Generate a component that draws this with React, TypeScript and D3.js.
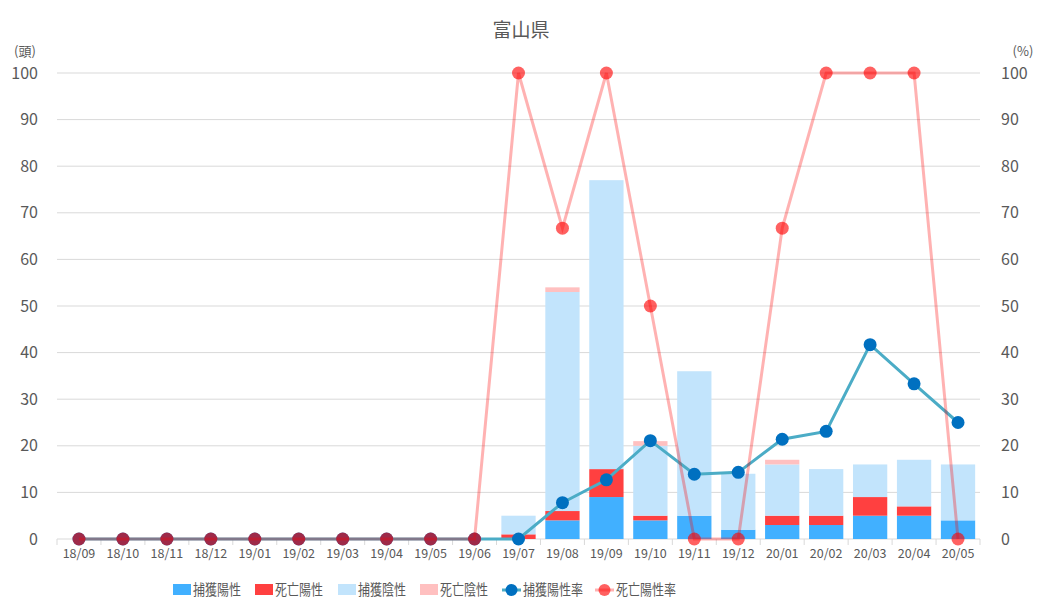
import React from "react";
import * as d3 from "d3";

const categories = ["18/09","18/10","18/11","18/12","19/01","19/02","19/03","19/04","19/05","19/06","19/07","19/08","19/09","19/10","19/11","19/12","20/01","20/02","20/03","20/04","20/05"];
const capturePositive = [0,0,0,0,0,0,0,0,0,0,0,4,9,4,5,2,3,3,5,5,4];
const deathPositive   = [0,0,0,0,0,0,0,0,0,0,1,2,6,1,0,0,2,2,4,2,0];
const captureNegative = [0,0,0,0,0,0,0,0,0,0,4,47,62,15,31,12,11,10,7,10,12];
const deathNegative   = [0,0,0,0,0,0,0,0,0,0,0,1,0,1,0,0,1,0,0,0,0];
const captureRate = [0,0,0,0,0,0,0,0,0,0,0,7.8,12.7,21.1,13.9,14.3,21.4,23.1,41.7,33.3,25];
const deathRate   = [0,0,0,0,0,0,0,0,0,0,100,66.7,100,50,0,0,66.7,100,100,100,0];
const yTicks = [0,10,20,30,40,50,60,70,80,90,100];

const seriesNames = ["捕獲陽性","死亡陽性","捕獲陰性","死亡陰性"];
const seriesColors = ["#41b0ff","#ff4040","#c2e4fc","#ffc0c0"];

const FONT = "'Noto Sans CJK JP', 'Noto Sans', sans-serif";
const TXT = "#595959";

export default function App() {
  const W = 1042, H = 615;
  const left = 57, right = 980, top = 73, bottom = 539;
  const x = d3.scaleBand<string>().domain(categories).range([left, right]).paddingInner(0.22).paddingOuter(0.11);
  const xc = (c: string) => (x(c) as number) + x.bandwidth() / 2;
  const y = d3.scaleLinear().domain([0, 100]).range([bottom, top]);
  const yR = d3.scaleLinear().domain([0, 100]).range([bottom, top]);
  const step = (right - left) / categories.length;

  const rows = categories.map((c, i) => ({
    cat: c,
    s0: capturePositive[i], s1: deathPositive[i], s2: captureNegative[i], s3: deathNegative[i],
  }));
  const stacked = d3.stack<any>().keys(["s0","s1","s2","s3"])(rows);

  const line = d3.line<number>().x((_, i) => xc(categories[i])).y(v => yR(v));

  const legend = [
    { type: "rect", color: seriesColors[0], label: seriesNames[0], x: 173 },
    { type: "rect", color: seriesColors[1], label: seriesNames[1], x: 255 },
    { type: "rect", color: seriesColors[2], label: seriesNames[2], x: 338 },
    { type: "rect", color: seriesColors[3], label: seriesNames[3], x: 420 },
    { type: "lineB", label: "捕獲陽性率", x: 502 },
    { type: "lineR", label: "死亡陽性率", x: 595 },
  ];

  return (
    <div style={{ position: "absolute", left: 0, top: 0 }}>
      <svg width={W} height={H} style={{ display: "block", background: "#fff" }} fontFamily={FONT}>
        <text x={521} y={37} textAnchor="middle" fontSize={19} fill={TXT}>富山県</text>
        <text x={25} y={56} textAnchor="middle" fontSize={13} fill={TXT}>(頭)</text>
        <text x={1023} y={56} textAnchor="middle" fontSize={13} fill={TXT}>(%)</text>
        {yTicks.map(t => (
          <g key={t}>
            <line x1={left} x2={right} y1={y(t)} y2={y(t)} stroke="#d9d9d9" strokeWidth={1} />
            <text x={38} y={y(t)} dy="0.35em" textAnchor="end" fontSize={16} fill={TXT}>{t}</text>
            <text x={1001} y={yR(t)} dy="0.35em" textAnchor="start" fontSize={16} fill={TXT}>{t}</text>
          </g>
        ))}
        {d3.range(categories.length + 1).map(i => (
          <line key={i} x1={left + i * step} x2={left + i * step} y1={bottom} y2={bottom + 6} stroke="#d9d9d9" />
        ))}
        {categories.map(c => (
          <text key={c} x={xc(c)} y={558} textAnchor="middle" fontSize={12.5} fill={TXT}>{c}</text>
        ))}
        {stacked.map((s, si) => (
          <g key={si} fill={seriesColors[si]}>
            {s.map((d: any, i: number) => (
              d[1] - d[0] > 0 ? (
                <rect key={i} x={x(categories[i])} width={x.bandwidth()} y={y(d[1])} height={y(d[0]) - y(d[1])} />
              ) : null
            ))}
          </g>
        ))}
        <path d={line(captureRate) || ""} fill="none" stroke="#4bacc6" strokeWidth={3} />
        {captureRate.map((v, i) => (
          <circle key={i} cx={xc(categories[i])} cy={yR(v)} r={6.5} fill="#0070c0" />
        ))}
        <path d={line(deathRate) || ""} fill="none" stroke="rgba(255,0,0,0.3)" strokeWidth={3} />
        {deathRate.map((v, i) => (
          <circle key={i} cx={xc(categories[i])} cy={yR(v)} r={6.5} fill="rgba(255,0,0,0.62)" />
        ))}
        {legend.map((l, i) => (
          <g key={i}>
            {l.type === "rect" && <rect x={l.x} y={584} width={18} height={11} fill={l.color} />}
            {l.type === "lineB" && (
              <g>
                <line x1={l.x} x2={l.x + 19} y1={590} y2={590} stroke="#4bacc6" strokeWidth={3} />
                <circle cx={l.x + 9.5} cy={590} r={6} fill="#0070c0" />
              </g>
            )}
            {l.type === "lineR" && (
              <g>
                <line x1={l.x} x2={l.x + 19} y1={590} y2={590} stroke="rgba(255,0,0,0.3)" strokeWidth={3} />
                <circle cx={l.x + 9.5} cy={590} r={6} fill="rgba(255,0,0,0.62)" />
              </g>
            )}
            <text x={l.x + (l.type === "rect" ? 20 : 21)} y={590} dy="0.36em" fontSize={14.5}
              textLength={l.label.length * 12} lengthAdjust="spacingAndGlyphs" fill={TXT}>{l.label}</text>
          </g>
        ))}
      </svg>
    </div>
  );
}
